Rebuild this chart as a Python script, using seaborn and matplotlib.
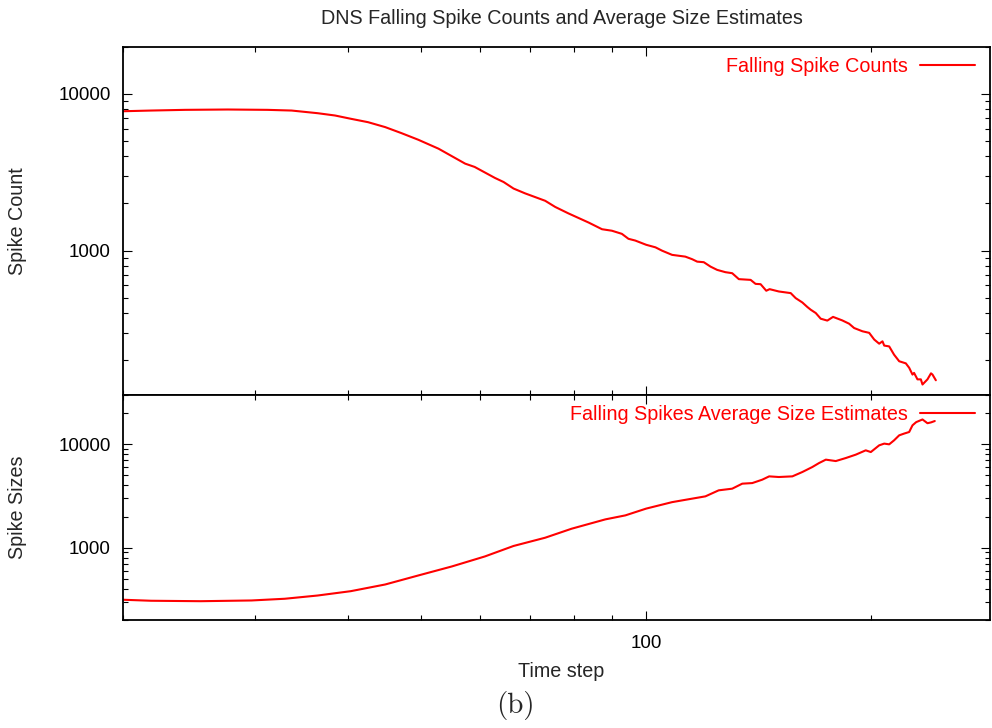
import matplotlib
matplotlib.use("Agg")
import matplotlib.pyplot as plt
from matplotlib.ticker import LogLocator, NullFormatter, FuncFormatter
import seaborn as sns

# Falling spike counts per time step
count_steps = [20, 21.8, 24.2, 27.6, 31.2, 33.6, 36.4, 38.4, 40.3, 42.5, 44.8, 47.1,
               49.6, 52.8, 57.3, 59.0, 62.8, 64.5, 66.5, 68.9, 73.3, 75.6, 78.7, 83.8,
               87.3, 90.0, 92.8, 94.7, 96.7, 100, 102.9, 105.0, 108.3, 112.8, 115.2,
               117.0, 119.4, 121.9, 124.4, 127.6, 130.3, 133.0, 137.9, 140.0, 142.2,
               144.7, 146.2, 150.4, 156.0, 158.4, 161.7, 164.2, 165.9, 168.5, 171.1,
               174.6, 177.7, 182.8, 186.7, 189.6, 194.5, 198.6, 201.7, 204.8, 206.9,
               208.0, 211.2, 214.4, 217.8, 222.3, 224.6, 226.9, 228.0, 230.4, 232.8,
               234.0, 237.6, 240.2, 241.3, 243.8]
spike_counts = [7750, 7830, 7910, 7950, 7910, 7830, 7530, 7280, 6940, 6600, 6140, 5620,
                5100, 4470, 3590, 3420, 2910, 2740, 2490, 2320, 2080, 1900, 1730, 1510,
                1370, 1340, 1280, 1190, 1160, 1090, 1050, 1000, 940, 916, 882,
                851, 844, 791, 754, 729, 718, 658, 651, 614, 611,
                555, 568, 549, 536, 498, 467, 437, 420, 400, 368,
                358, 378, 359, 342, 321, 306, 299, 271, 255, 264,
                248, 245, 217, 197, 191, 179, 162, 166, 151, 151,
                140, 151, 165, 162, 149]

# Average size estimates of the falling spikes
size_steps = [20, 21.8, 25.4, 29.7, 32.9, 36.4, 40.3, 44.8, 49.6, 55.0, 60.9, 66.5,
              73.3, 79.5, 88.2, 93.8, 100, 108.3, 111.7, 120.0, 125.0, 130.3, 134.4,
              138.6, 142.9, 146.0, 150.4, 156.8, 161.7, 166.7, 170.2, 173.8, 179.2,
              184.8, 190.6, 196.5, 199.6, 204.8, 208.0, 211.2, 214.4, 217.8, 221.1,
              224.6, 226.9, 229.5, 234.0, 237.6, 240.2, 243.0]
spike_sizes = [314, 307, 304, 309, 321, 345, 380, 441, 539, 659, 824, 1040,
               1250, 1527, 1880, 2055, 2390, 2760, 2870, 3140, 3590, 3725, 4165,
               4220, 4550, 4900, 4830, 4900, 5400, 6030, 6590, 7110, 6890,
               7370, 7950, 8750, 8420, 9780, 10160, 10000, 10930, 12220, 12700,
               13160, 15270, 16400, 17400, 16000, 16300, 16800]

sns.set_style("white")
plt.rcParams["font.family"] = ["Liberation Sans", "DejaVu Sans"]

W, H = 992, 728
FS_TICK = 13.5
FS = 14.2
RED = "#ff0000"

fig = plt.figure(figsize=(W / 100, H / 100), dpi=100)


def box(x0, y0, x1, y1):
    return [x0 / W, 1 - y1 / H, (x1 - x0) / W, (y1 - y0) / H]


ax_top = fig.add_axes(box(123, 46.7, 990, 395))
ax_bot = fig.add_axes(box(123, 395, 990, 620), sharex=ax_top)

sns.lineplot(x=count_steps, y=spike_counts, ax=ax_top, color=RED, linewidth=1.5,
             label="Falling Spike Counts")
sns.lineplot(x=size_steps, y=spike_sizes, ax=ax_bot, color=RED, linewidth=1.5,
             label="Falling Spikes Average Size Estimates")

plain = FuncFormatter(lambda v, _: f"{v:g}")
for ax, ylim, key_y in ((ax_top, (120, 20000), 66), (ax_bot, (200, 30000), 414)):
    ax.set_xscale("log")
    ax.set_yscale("log")
    ax.set_xlim(20, 288)
    ax.set_ylim(*ylim)
    for axis in (ax.xaxis, ax.yaxis):
        axis.set_major_locator(LogLocator(base=10))
        axis.set_minor_locator(LogLocator(base=10, subs=range(2, 10)))
        axis.set_major_formatter(plain)
        axis.set_minor_formatter(NullFormatter())
    ax.tick_params(which="both", direction="in", left=True, bottom=True,
                   top=True, right=True, width=0.8, colors="black",
                   labelsize=FS_TICK, pad=9)
    ax.tick_params(which="major", length=6.5)
    ax.tick_params(which="minor", length=3.4)
    for sp in ax.spines.values():
        sp.set_linewidth(1.3)
        sp.set_color("black")
    ax.legend(loc="center right", frameon=False, markerfirst=False,
              handlelength=2.78, handletextpad=0.62, borderpad=0, borderaxespad=0,
              labelcolor="linecolor", fontsize=FS, bbox_transform=fig.transFigure,
              bbox_to_anchor=(975 / W, 1 - key_y / H))

ax_top.tick_params(labelbottom=False)
ax_bot.tick_params(axis="x", pad=11)
ax_top.set_xlabel("")

ax_top.set_ylabel("Spike Count", fontsize=FS)
ax_bot.set_ylabel("Spike Sizes", fontsize=FS)
ax_top.yaxis.set_label_coords(-0.111, 0.5)
ax_bot.yaxis.set_label_coords(-0.111, 0.5)

ax_bot.set_xlabel("Time step", fontsize=FS)
ax_bot.xaxis.set_label_coords((561 - 123) / 867, (620 - 662) / 225)

fig.text(562 / W, 1 - 18 / H, "DNS Falling Spike Counts and Average Size Estimates",
         ha="center", va="center", fontsize=FS)
fig.text(515 / W, 1 - 706 / H, "(b)", ha="center", va="center",
         fontsize=21, family="cmr10")

fig.savefig("out.png", dpi=100)
